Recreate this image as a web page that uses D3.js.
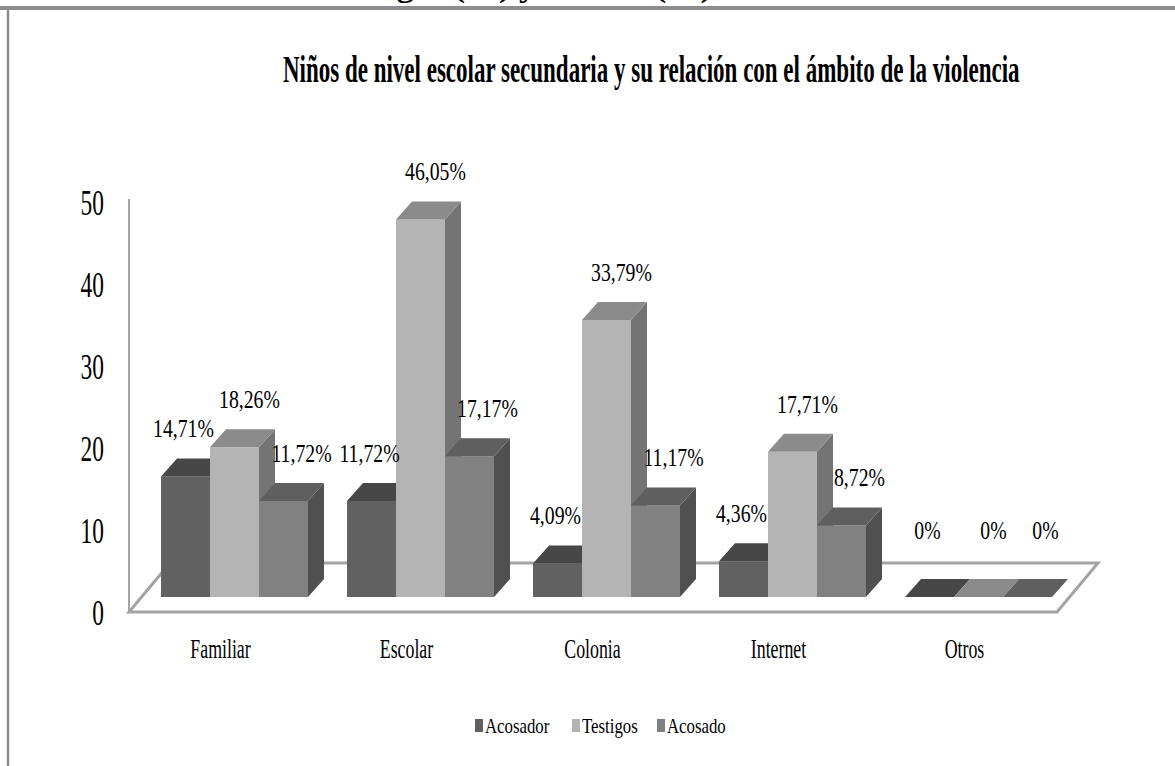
<!DOCTYPE html>
<html>
<head>
<meta charset="utf-8">
<script src="https://cdn.jsdelivr.net/npm/d3@7"></script>
<style>
  body { margin: 0; background: #fff; }
  text { font-family: "Liberation Serif", "Times New Roman", serif; fill: #000; }
</style>
</head>
<body>
<div class="svg-container"></div>
<script>
// datos del grafico
var categories = ["Familiar", "Escolar", "Colonia", "Internet", "Otros"];
var series = ["Acosador", "Testigos", "Acosado"];
var acosador = [14.71, 11.72, 4.09, 4.36, 0];
var testigos = [18.26, 46.05, 33.79, 17.71, 0];
var acosado = [11.72, 17.17, 11.17, 8.72, 0];
var yTicks = [0, 10, 20, 30, 40, 50];
var title = "Niños de nivel escolar secundaria y su relación con el ámbito de la violencia";
var topCaption = "Lugar (%) y ámbito (%)";

var values = [acosador, testigos, acosado];

// colores: frente, techo, lado
var colors = {
    "Acosador": { front: "#616161", top: "#474747", side: "#3d3d3d", legend: "#606060" },
    "Testigos": { front: "#b4b4b4", top: "#8b8b8b", side: "#747474", legend: "#b3b3b3" },
    "Acosado":  { front: "#818181", top: "#5f5f5f", side: "#505050", legend: "#808080" }
};
// desplazamiento de la etiqueta segun la serie
var labelShift = { "Acosador": -2, "Testigos": 15, "Acosado": 18 };

var width = 1175;
var height = 766;
var depthX = 16;
var depthY = 18;

var svg = d3.select(".svg-container").append("svg")
    .attr("width", width)
    .attr("height", height);

// texto condensado
function condensed(g, x, y, txt, size, sx, anchor, weight) {
    return g.append("text")
        .attr("transform", "translate(" + x + "," + y + ") scale(" + sx + ",1)")
        .attr("text-anchor", anchor || "start")
        .style("font-size", size + "px")
        .style("font-weight", weight || "normal")
        .text(txt);
}

// texto ajustado a un ancho dado
function fitted(g, x, y, txt, size, w, weight) {
    var t = condensed(g, x, y, txt, size, 1, "start", weight);
    var natural = t.node().getComputedTextLength();
    t.attr("transform", "translate(" + x + "," + y + ") scale(" + (w / natural) + ",1)");
    return t;
}

// marco de la pagina (texto de arriba cortado)
fitted(svg, 355, -3, topCaption, 30, 357, "bold");

svg.append("line")
    .attr("x1", 0).attr("x2", width)
    .attr("y1", 8).attr("y2", 8)
    .attr("stroke", "#8c8c8c")
    .attr("stroke-width", 4);
svg.append("line")
    .attr("x1", 8).attr("x2", 8)
    .attr("y1", 8).attr("y2", height)
    .attr("stroke", "#8c8c8c")
    .attr("stroke-width", 2.5);

// titulo
fitted(svg, 283, 82, title, 38, 737, "bold");

// escalas
var x = d3.scaleBand()
    .domain(categories)
    .range([141.5, 1071.5]);

var xs = d3.scaleBand()
    .domain(series)
    .range([19.5, 166.5]);

var y = d3.scaleLinear()
    .domain([0, 50])
    .range([597, 187]);

// piso
var floorFront = y(0) + 15;
var floorBack = y(0) - 34;
var floorLeft = 129;
var floorRight = 1057;
var floorSkew = 41;

svg.append("path")
    .attr("d", "M" + floorLeft + "," + floorFront +
        "L" + (floorLeft + floorSkew) + "," + floorBack +
        "L" + (floorRight + floorSkew) + "," + floorBack +
        "L" + floorRight + "," + floorFront + "Z")
    .attr("fill", "#fff")
    .attr("stroke", "#a3a3a3")
    .attr("stroke-width", 3);

// pared / eje vertical
svg.append("line")
    .attr("x1", floorLeft).attr("x2", floorLeft)
    .attr("y1", floorFront).attr("y2", y(50) + 12)
    .attr("stroke", "#a3a3a3")
    .attr("stroke-width", 2);

// etiquetas del eje Y
var yAxisG = svg.append("g");
yTicks.forEach(function(t) {
    condensed(yAxisG, 104, y(t) + 28, String(t), 36, 0.65, "end");
});

// barras 3D
var bars = [];
categories.forEach(function(c, i) {
    series.forEach(function(s, j) {
        bars.push({ cat: c, serie: s, value: values[j][i] });
    });
});

var barG = svg.append("g");
bars.forEach(function(d) {
    var x0 = x(d.cat) + xs(d.serie);
    var x1 = x0 + xs.bandwidth();
    var yt = y(d.value);
    var yb = y(0);
    var col = colors[d.serie];
    var g = barG.append("g");

    // frente
    if (yb - yt > 0) {
        g.append("rect")
            .attr("x", x0)
            .attr("y", yt)
            .attr("width", x1 - x0)
            .attr("height", yb - yt)
            .attr("fill", col.front);
        // lado
        g.append("path")
            .attr("d", "M" + x1 + "," + yt + "L" + (x1 + depthX) + "," + (yt - depthY) +
                "L" + (x1 + depthX) + "," + (yb - depthY) + "L" + x1 + "," + yb + "Z")
            .attr("fill", col.side);
    }
    // techo
    g.append("path")
        .attr("d", "M" + x0 + "," + yt + "L" + (x0 + depthX) + "," + (yt - depthY) +
            "L" + (x1 + depthX) + "," + (yt - depthY) + "L" + x1 + "," + yt + "Z")
        .attr("fill", col.top);
});

// etiquetas de datos
var labelG = svg.append("g");
bars.forEach(function(d) {
    var cx = x(d.cat) + xs(d.serie) + xs.bandwidth() / 2 + labelShift[d.serie];
    var txt = d.value === 0 ? "0%" : d.value.toFixed(2).replace(".", ",") + "%";
    var ly = d.value === 0 ? y(0) - 58 : y(d.value) - 39;
    condensed(labelG, cx, ly, txt, 26, 0.76, "middle");
});

// etiquetas de categoria
var catG = svg.append("g");
categories.forEach(function(c) {
    condensed(catG, x(c) + x.bandwidth() / 2 - 14, 658, c, 27, 0.66, "middle");
});

// leyenda
var legendItems = [
    { name: "Acosador", x: 475 },
    { name: "Testigos", x: 572 },
    { name: "Acosado", x: 657 }
];
var legendG = svg.append("g");
legendItems.forEach(function(l) {
    legendG.append("rect")
        .attr("x", l.x)
        .attr("y", 719)
        .attr("width", 8)
        .attr("height", 13)
        .attr("fill", colors[l.name].legend);
    condensed(legendG, l.x + 10, 733, l.name, 21, 0.8, "start");
});
</script>
</body>
</html>
